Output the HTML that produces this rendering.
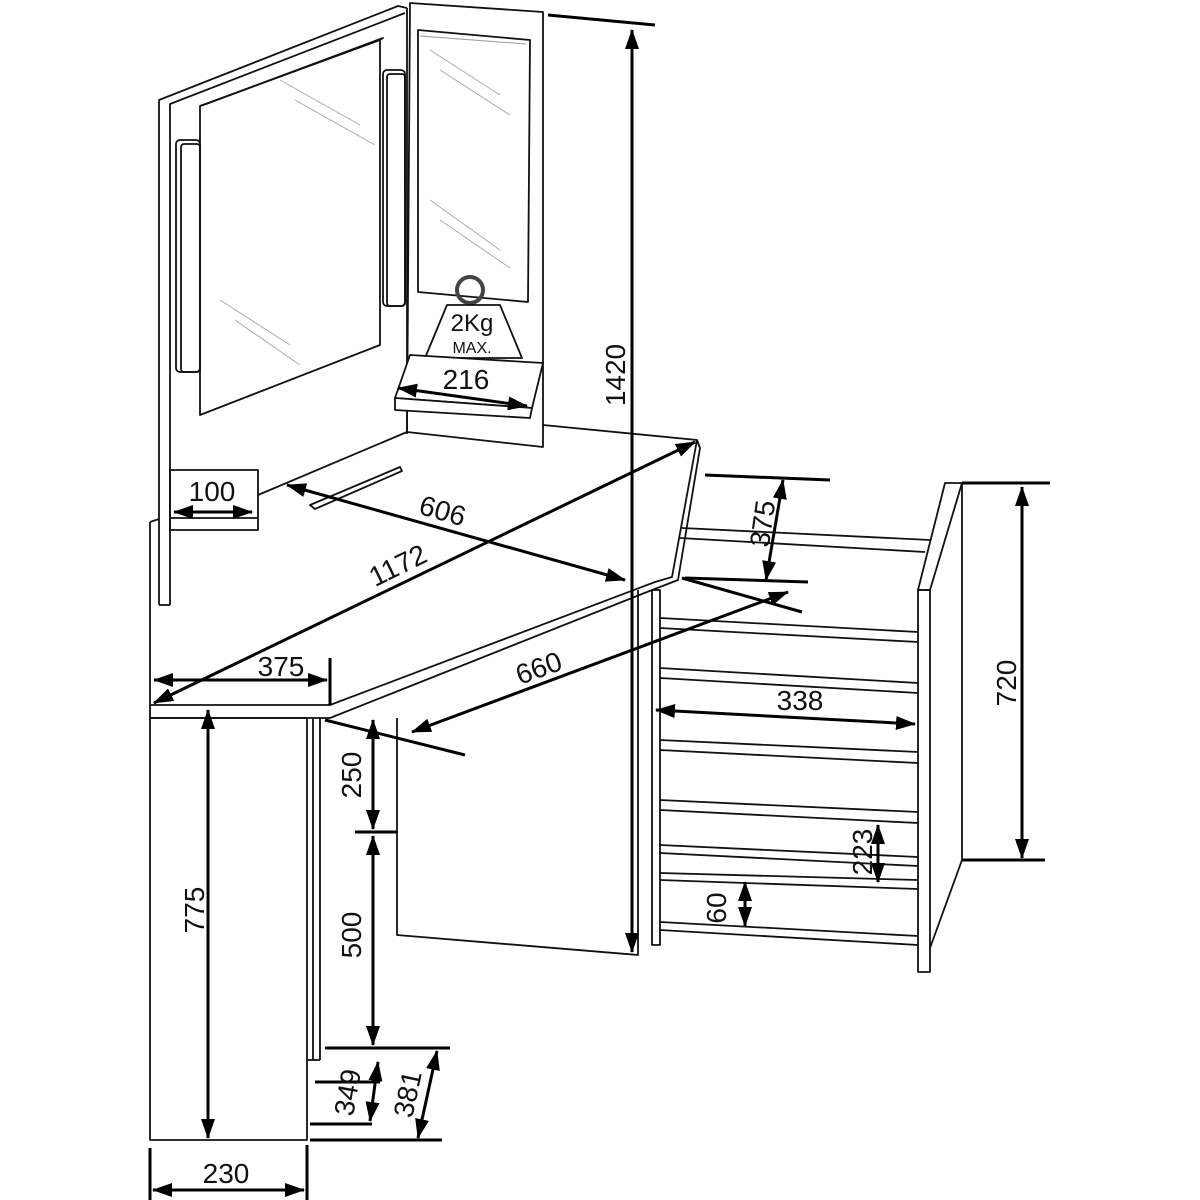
<!DOCTYPE html>
<html><head><meta charset="utf-8"><style>html,body{margin:0;padding:0;background:#fff}svg{display:block}text{font-family:"Liberation Sans",sans-serif;fill:#111}</style></head><body>
<svg width="1200" height="1200" viewBox="0 0 1200 1200" xmlns="http://www.w3.org/2000/svg">
<defs>
<marker id="a" viewBox="-17 -8 20 16" refX="2" refY="0" markerWidth="20" markerHeight="16" orient="auto-start-reverse" markerUnits="userSpaceOnUse"><path d="M-17,-7 L3,0 L-17,7 Z" fill="#000"/></marker>
</defs>
<g fill="none" stroke="#111" stroke-width="1.8" stroke-linejoin="round">
<polyline points="159,605 159,100 398,6 407,8"/>
<polyline points="170,605 170,104 405,13"/>
<line x1="159" y1="605" x2="170" y2="605"/>
<line x1="407" y1="8" x2="407" y2="434"/>
<polygon points="410,3 543,12 543,447 407,432"/>
<polygon points="418,30 530,40 528,302 418,292"/>
<polyline points="420,36 526,44" stroke="#999" stroke-width="1"/>
<g stroke="#aaa" stroke-width="1"><line x1="430" y1="50" x2="500" y2="95"/><line x1="440" y1="70" x2="510" y2="115"/><line x1="430" y1="200" x2="500" y2="250"/><line x1="440" y1="220" x2="510" y2="268"/>
<line x1="280" y1="80" x2="360" y2="125"/><line x1="295" y1="100" x2="375" y2="145"/><line x1="220" y1="300" x2="290" y2="345"/><line x1="235" y1="320" x2="300" y2="365"/></g>
<polygon points="200,106 380,40 380,345 200,415"/>
<polyline points="200,106 206,104 383,38 380,40"/>
<rect x="176" y="140" width="24" height="232" rx="4"/><rect x="181" y="144" width="19" height="228" rx="3"/>
<rect x="383" y="70" width="22" height="236" rx="4"/><rect x="387" y="74" width="18" height="232" rx="3"/>
<circle cx="470" cy="290" r="13" stroke="#444" stroke-width="4"/>
<polygon points="447,305 500,305 522,358 425,358" fill="#fff"/>
<polygon points="410,355 543,363 532,408 395,398" fill="#fff"/>
<polygon points="395,398 532,408 530,418 395,410" fill="#fff"/>
<rect x="170" y="470" width="88" height="60"/><line x1="170" y1="518" x2="258" y2="518"/>
<line x1="258" y1="495" x2="407" y2="432"/>
<line x1="543" y1="425" x2="697" y2="440"/>
<polygon points="310,505 400,467 402,471 315,509"/>
<polyline points="150,522 150,718 330,718 647,592"/>
<polyline points="150,705 330,705 655,582 672,577 697,440 700,448 678,580 647,592"/>
<line x1="150" y1="522" x2="159" y2="519"/>
<rect x="150" y="718" width="157" height="422"/>
<line x1="313" y1="718" x2="313" y2="1060"/><line x1="320" y1="718" x2="320" y2="1060"/>
<line x1="307" y1="1060" x2="320" y2="1060"/>
<polyline points="397,718 397,935 638,955 638,590"/>
<polygon points="918,590 930,590 962,483 945,483"/>
<polyline points="962,483 962,860 930,948"/>
<rect x="918" y="590" width="12" height="382"/>
<rect x="652" y="590" width="8" height="355"/>
<g>
<polyline points="682,528 930,540"/><polyline points="680,538 925,552"/>
<polyline points="660,618 918,632"/><polyline points="660,628 918,642"/>
<polyline points="660,668 918,683"/><polyline points="660,678 918,693"/>
<polyline points="660,740 918,752"/><polyline points="660,750 918,763"/>
<polyline points="660,800 918,812"/><polyline points="660,810 918,823"/>
<polyline points="660,845 918,857"/><polyline points="660,853 918,866"/>
<polyline points="660,873 918,880"/><polyline points="660,880 918,889"/>
<polyline points="660,922 918,936"/><polyline points="660,930 918,945"/>
</g>
</g>
<g stroke="#000" stroke-width="3" fill="none">
<line x1="548" y1="15" x2="655" y2="25"/>
<line x1="632" y1="30" x2="632" y2="952" marker-start="url(#a)" marker-end="url(#a)"/>
<line x1="398" y1="388" x2="527" y2="406" marker-start="url(#a)" marker-end="url(#a)"/>
<line x1="174" y1="512" x2="252" y2="512" marker-start="url(#a)" marker-end="url(#a)"/>
<line x1="287" y1="485" x2="625" y2="580" marker-start="url(#a)" marker-end="url(#a)"/>
<line x1="154" y1="703" x2="695" y2="442" marker-start="url(#a)" marker-end="url(#a)"/>
<line x1="154" y1="680" x2="327" y2="680" marker-start="url(#a)" marker-end="url(#a)"/>
<line x1="330" y1="658" x2="330" y2="705"/>
<line x1="325" y1="720" x2="465" y2="755"/>
<line x1="682" y1="578" x2="802" y2="612"/>
<line x1="412" y1="732" x2="788" y2="592" marker-start="url(#a)" marker-end="url(#a)"/>
<line x1="705" y1="475" x2="830" y2="480"/>
<line x1="685" y1="578" x2="808" y2="582"/>
<line x1="783" y1="480" x2="766" y2="580" marker-start="url(#a)" marker-end="url(#a)"/>
<line x1="962" y1="483" x2="1050" y2="483"/>
<line x1="962" y1="860" x2="1045" y2="860"/>
<line x1="1022" y1="487" x2="1022" y2="858" marker-start="url(#a)" marker-end="url(#a)"/>
<line x1="656" y1="710" x2="915" y2="724" marker-start="url(#a)" marker-end="url(#a)"/>
<line x1="878" y1="825" x2="878" y2="882" marker-start="url(#a)" marker-end="url(#a)"/>
<line x1="745" y1="882" x2="745" y2="926" marker-start="url(#a)" marker-end="url(#a)"/>
<line x1="208" y1="710" x2="208" y2="1138" marker-start="url(#a)" marker-end="url(#a)"/>
<line x1="355" y1="832" x2="397" y2="832"/>
<line x1="373" y1="720" x2="373" y2="829" marker-start="url(#a)" marker-end="url(#a)"/>
<line x1="373" y1="836" x2="373" y2="1045" marker-start="url(#a)" marker-end="url(#a)"/>
<line x1="325" y1="1048" x2="450" y2="1048"/>
<line x1="315" y1="1082" x2="380" y2="1082"/>
<line x1="310" y1="1124" x2="372" y2="1124"/>
<line x1="378" y1="1062" x2="370" y2="1121" marker-start="url(#a)" marker-end="url(#a)"/>
<line x1="310" y1="1140" x2="442" y2="1140"/>
<line x1="437" y1="1051" x2="418" y2="1138" marker-start="url(#a)" marker-end="url(#a)"/>
<line x1="150" y1="1148" x2="150" y2="1200"/><line x1="307" y1="1145" x2="307" y2="1200"/>
<line x1="153" y1="1190" x2="304" y2="1190" marker-start="url(#a)" marker-end="url(#a)"/>
</g>
<g font-size="28">
<text x="472" y="331" text-anchor="middle" font-size="24">2Kg</text>
<text x="472" y="353" text-anchor="middle" font-size="16">MAX.</text>
<text x="466" y="389" text-anchor="middle">216</text>
<text x="212" y="501" text-anchor="middle">100</text>
<text x="440" y="520" text-anchor="middle" transform="rotate(16 440 520)">606</text>
<text x="402" y="574" text-anchor="middle" transform="rotate(-26 402 574)">1172</text>
<text x="281" y="676" text-anchor="middle">375</text>
<text x="542" y="677" text-anchor="middle" transform="rotate(-20 542 677)">660</text>
<text x="625" y="375" text-anchor="middle" transform="rotate(-90 625 375)">1420</text>
<text x="772" y="525" text-anchor="middle" transform="rotate(-82 772 525)">375</text>
<text x="1016" y="683" text-anchor="middle" transform="rotate(-90 1016 683)">720</text>
<text x="800" y="710" text-anchor="middle">338</text>
<text x="872" y="852" text-anchor="middle" transform="rotate(-90 872 852)">223</text>
<text x="726" y="908" text-anchor="middle" transform="rotate(-90 726 908)">60</text>
<text x="204" y="910" text-anchor="middle" transform="rotate(-90 204 910)">775</text>
<text x="361" y="775" text-anchor="middle" transform="rotate(-90 361 775)">250</text>
<text x="361" y="935" text-anchor="middle" transform="rotate(-90 361 935)">500</text>
<text x="357" y="1094" text-anchor="middle" transform="rotate(-80 357 1094)">349</text>
<text x="417" y="1096" text-anchor="middle" transform="rotate(-78 417 1096)">381</text>
<text x="226" y="1183" text-anchor="middle">230</text>
</g>
</svg>
</body></html>
